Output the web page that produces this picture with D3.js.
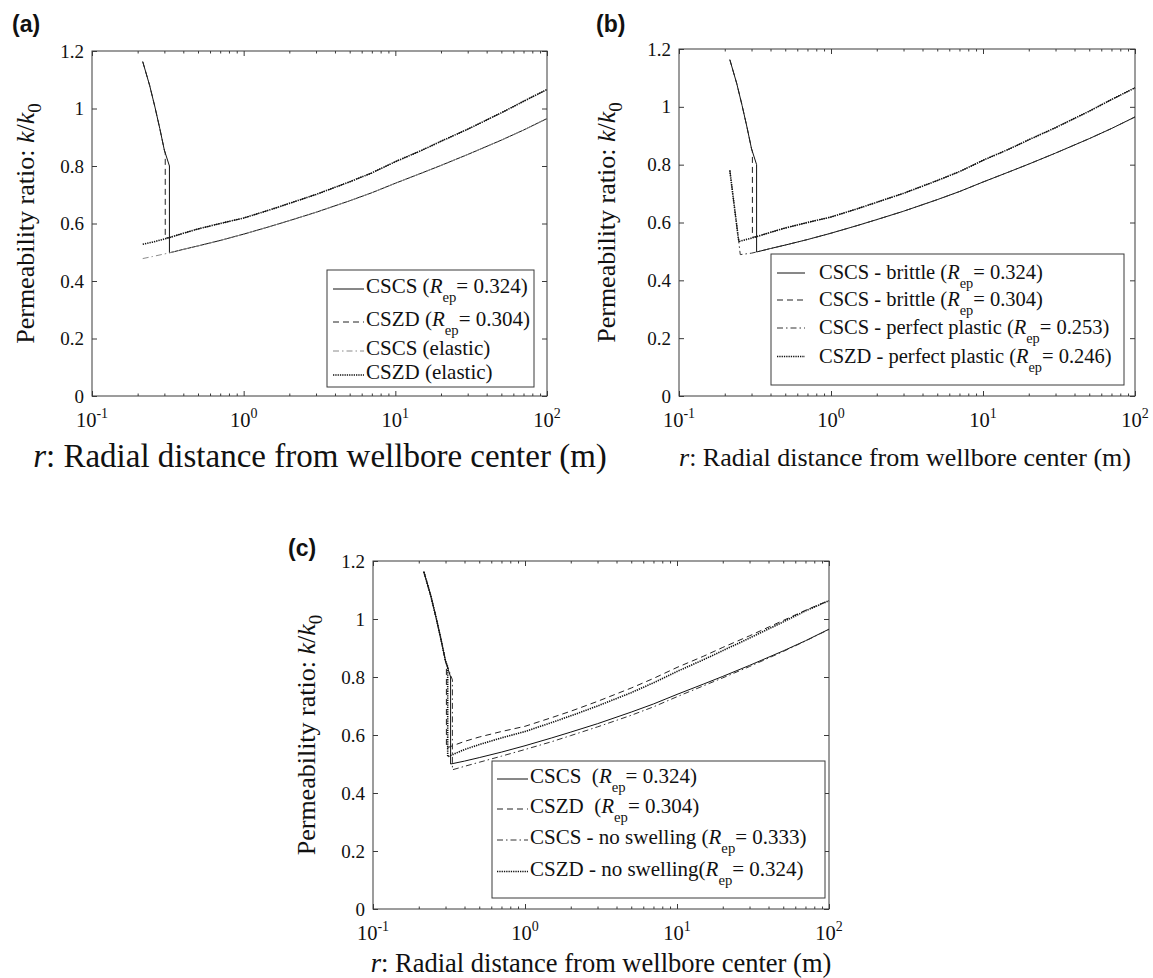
<!DOCTYPE html>
<html>
<head>
<meta charset="utf-8">
<script src="https://cdn.jsdelivr.net/npm/d3@7/dist/d3.min.js"></script>
<style>
  body { margin: 0; background: #fff; }
</style>
</head>
<body>
<svg id="fig" width="1153" height="978"></svg>
<script>
// ---- data ----
const xMajor = [0.1, 1, 10, 100];
const xExp = ['-1', '0', '1', '2'];
const yTicks = [0, 0.2, 0.4, 0.6, 0.8, 1, 1.2];
const yTickLabels = ['0', '0.2', '0.4', '0.6', '0.8', '1', '1.2'];

// plastic-zone branch (near wellbore)
const rPlastic = [0.216, 0.24, 0.26, 0.28, 0.30];
const kPlastic = [1.163, 1.08, 1.005, 0.93, 0.855];

// elastic curves
const rElastic = [0.216, 0.25, 0.3, 0.324, 0.4, 0.5, 0.7, 1, 1.5, 2, 3, 5, 7, 10, 15, 20, 30, 50, 70, 100];
const kCSCSElastic = [0.478, 0.485, 0.494, 0.498, 0.510, 0.522, 0.541, 0.563, 0.590, 0.610, 0.639, 0.679, 0.707, 0.740, 0.776, 0.802, 0.840, 0.890, 0.925, 0.965];
const kCSZDElastic = [0.528, 0.535, 0.546, 0.551, 0.566, 0.581, 0.600, 0.619, 0.648, 0.670, 0.701, 0.745, 0.776, 0.815, 0.855, 0.886, 0.928, 0.985, 1.025, 1.066];

// panel (b) perfect plastic branch
const rPerfect = [0.216, 0.246, 0.253];
const kPerfect = [0.78, 0.543, 0.489];

// panel (c) curves beyond the jump
const rC = [0.4, 0.5, 0.7, 1, 1.5, 2, 3, 5, 7, 10, 15, 20, 30, 50, 70, 100];
const kCDashed = [0.578, 0.593, 0.612, 0.630, 0.660, 0.682, 0.716, 0.762, 0.795, 0.833, 0.872, 0.902, 0.942, 0.995, 1.030, 1.064];
const kCDotted = [0.550, 0.567, 0.590, 0.612, 0.643, 0.666, 0.700, 0.746, 0.780, 0.819, 0.860, 0.891, 0.934, 0.990, 1.028, 1.063];
const kCDashDot = [0.492, 0.506, 0.527, 0.550, 0.577, 0.598, 0.628, 0.668, 0.697, 0.732, 0.770, 0.797, 0.836, 0.888, 0.924, 0.964];

// jump radii and values
const repA = [0.324, 0.304];          // CSCS, CSZD
const jumpTop = [0.80, 0.845];
const jumpBottom = [0.498, 0.549];
const repC = [0.324, 0.304, 0.333, 0.31];
const jumpTopC = [0.80, 0.845, 0.79, 0.835];
const jumpBottomC = [0.50, 0.555, 0.48, 0.525];

const legendA = [['CSCS (', '0.324)'], ['CSZD (', '0.304)'], ['CSCS (elastic)', null], ['CSZD (elastic)', null]];
const legendB = [['CSCS - brittle (', '0.324)'], ['CSCS - brittle (', '0.304)'], ['CSCS - perfect plastic (', '0.253)'], ['CSZD - perfect plastic (', '0.246)']];
const legendC = [['CSCS  (', '0.324)'], ['CSZD  (', '0.304)'], ['CSCS - no swelling (', '0.333)'], ['CSZD - no swelling(', '0.324)']];

// ---- helpers ----
const SERIF = '"Liberation Serif", "Times New Roman", Times, serif';
const SANS = '"Liberation Sans", Arial, sans-serif';
const zip = (rs, ks) => rs.map((r, i) => [r, ks[i]]);
const plasticTo = rep => zip(rPlastic, kPlastic).filter(d => d[0] < rep);
const elasticFrom = (ks, rep) => zip(rElastic, ks).filter(d => d[0] > rep);

const styles = {
    solid: {dash: null, w: 1, c: '#111'},
    dashed: {dash: '6,4', w: 1, c: '#222'},
    dashdot: {dash: '6,3,1.5,3', w: 1, c: '#333'},
    dashdotGrey: {dash: '6,3,1.5,3', w: 1, c: '#8a8a8a'},
    dotted: {dash: '1.3,1', w: 1.6, c: '#111'}
};
const axisCol = '#3a3a3a';

const svg = d3.select('#fig');

function drawPanel(p) {
    const g = svg.append('g');
    const x = d3.scaleLog().domain([0.1, 100]).range([p.x0, p.x1]);
    const y = d3.scaleLinear().domain([0, 1.2]).range([p.y1, p.y0]);

    const minor = [];
    [0.1, 1, 10].forEach(b => { for (let m = 2; m <= 9; m++) minor.push(b * m); });

    // ticks (inward, on all four sides)
    const mk = (axis, tr) => {
        const a = g.append('g').attr('transform', tr).call(axis);
        a.select('.domain').remove();
        a.selectAll('line').attr('stroke', axisCol);
        return a;
    };
    mk(d3.axisBottom(x).tickValues(xMajor).tickSize(-5).tickFormat(''), `translate(0,${p.y1})`);
    mk(d3.axisBottom(x).tickValues(minor).tickSize(-2.5).tickFormat(''), `translate(0,${p.y1})`);
    mk(d3.axisTop(x).tickValues(xMajor).tickSize(-5).tickFormat(''), `translate(0,${p.y0})`);
    mk(d3.axisTop(x).tickValues(minor).tickSize(-2.5).tickFormat(''), `translate(0,${p.y0})`);
    const ya = mk(d3.axisLeft(y).tickValues(yTicks).tickSize(-5).tickPadding(8)
        .tickFormat((d, i) => yTickLabels[i]), `translate(${p.x0},0)`);
    ya.attr('font-size', 19).attr('font-family', SERIF);
    ya.selectAll('text').attr('fill', '#111');
    mk(d3.axisRight(y).tickValues(yTicks).tickSize(-5).tickFormat(''), `translate(${p.x1},0)`);

    // box
    g.append('rect')
        .attr('x', p.x0).attr('y', p.y0)
        .attr('width', p.x1 - p.x0).attr('height', p.y1 - p.y0)
        .attr('fill', 'none').attr('stroke', axisCol).attr('stroke-width', 1);

    // x tick labels 10^n
    xMajor.forEach((v, i) => {
        const t = g.append('text')
            .attr('x', x(v)).attr('y', p.y1 + 31)
            .attr('text-anchor', 'middle')
            .attr('font-family', SERIF).attr('fill', '#111')
            .attr('font-size', 20.5);
        t.append('tspan').text('10');
        t.append('tspan').attr('dy', -9).attr('font-size', 14).text(xExp[i]);
    });

    // series
    const line = d3.line().x(d => x(d[0])).y(d => y(d[1]));
    p.series.forEach(s => {
        const st = styles[s.style];
        g.append('path')
            .datum(s.pts)
            .attr('d', line)
            .attr('fill', 'none')
            .attr('stroke', st.c)
            .attr('stroke-width', st.w)
            .attr('stroke-dasharray', st.dash);
    });

    // legend
    const L = p.legend;
    g.append('rect')
        .attr('x', L.x0).attr('y', L.y0)
        .attr('width', L.x1 - L.x0).attr('height', L.y1 - L.y0)
        .attr('fill', '#fff').attr('stroke', axisCol).attr('stroke-width', 1);
    L.items.forEach((it, i) => {
        const st = styles[p.series[i].style];
        const ly = L.rows[i];
        g.append('line')
            .attr('x1', L.sx0).attr('x2', L.sx1).attr('y1', ly).attr('y2', ly)
            .attr('stroke', st.c).attr('stroke-width', st.w).attr('stroke-dasharray', st.dash);
        const t = g.append('text')
            .attr('x', L.tx).attr('y', ly + L.base)
            .attr('font-family', SERIF).attr('fill', '#111')
            .attr('font-size', L.fs)
            .style('white-space', 'pre');
        t.append('tspan').text(it[0]);
        if (it[1]) {
            t.append('tspan').attr('font-style', 'italic').text('R');
            t.append('tspan').attr('dy', L.fs * 0.44).attr('font-size', L.fs * 0.7).text('ep');
            t.append('tspan').attr('dy', -L.fs * 0.44).text('= ' + it[1]);
        }
    });

    // y label
    const yl = g.append('text')
        .attr('transform', `translate(${p.ylx},${(p.y0 + p.y1) / 2}) rotate(-90)`)
        .attr('text-anchor', 'middle')
        .attr('font-family', SERIF).attr('fill', '#111')
        .attr('font-size', 26);
    yl.append('tspan').text('Permeability ratio: ');
    yl.append('tspan').attr('font-style', 'italic').text('k');
    yl.append('tspan').text('/');
    yl.append('tspan').attr('font-style', 'italic').text('k');
    yl.append('tspan').attr('dy', 7).attr('font-size', 19).text('0');

    // x label
    const xl = g.append('text')
        .attr('x', p.xlx).attr('y', p.xly)
        .attr('text-anchor', 'middle')
        .attr('font-family', SERIF).attr('fill', '#111')
        .attr('font-size', p.xlfs);
    xl.append('tspan').attr('font-style', 'italic').text('r');
    xl.append('tspan').text(': Radial distance from wellbore center (m)');

    // panel tag
    svg.append('text')
        .attr('x', p.tagX).attr('y', p.tagY)
        .attr('font-family', SANS).attr('font-weight', 'bold').attr('fill', '#111')
        .attr('font-size', 23)
        .text(p.tag);
}

// ---- panel (a) ----
drawPanel({
    tag: '(a)', tagX: 12, tagY: 32,
    x0: 92, x1: 547, y0: 51, y1: 396,
    ylx: 34, xlx: 320, xly: 467, xlfs: 33,
    series: [
        {style: 'solid', pts: [...plasticTo(repA[0]), [repA[0], jumpTop[0]], [repA[0], jumpBottom[0]], ...elasticFrom(kCSCSElastic, repA[0])]},
        {style: 'dashed', pts: [...plasticTo(repA[1]), [repA[1], jumpTop[1]], [repA[1], jumpBottom[1]], ...elasticFrom(kCSZDElastic, repA[1])]},
        {style: 'dashdotGrey', pts: zip(rElastic, kCSCSElastic)},
        {style: 'dotted', pts: zip(rElastic, kCSZDElastic)}
    ],
    legend: {
        x0: 327, x1: 534, y0: 270, y1: 387,
        sx0: 333, sx1: 364, tx: 366, fs: 21, base: 4,
        rows: [289, 322, 351, 375],
        items: legendA
    }
});

// ---- panel (b) ----
drawPanel({
    tag: '(b)', tagX: 596, tagY: 32,
    x0: 679, x1: 1135, y0: 49, y1: 396,
    ylx: 615, xlx: 905, xly: 466, xlfs: 26,
    series: [
        {style: 'solid', pts: [...plasticTo(repA[0]), [repA[0], jumpTop[0]], [repA[0], jumpBottom[0]], ...elasticFrom(kCSCSElastic, repA[0])]},
        {style: 'dashed', pts: [...plasticTo(repA[1]), [repA[1], jumpTop[1]], [repA[1], jumpBottom[1]], ...elasticFrom(kCSZDElastic, repA[1])]},
        {style: 'dashdot', pts: [...zip(rPerfect, kPerfect), ...elasticFrom(kCSCSElastic, rPerfect[2])]},
        {style: 'dotted', pts: [...zip(rPerfect, kPerfect).slice(0, 2), ...elasticFrom(kCSZDElastic, rPerfect[1])]}
    ],
    legend: {
        x0: 771, x1: 1124, y0: 254, y1: 385,
        sx0: 777, sx1: 805, tx: 819, fs: 20.5, base: 6,
        rows: [273, 300, 328, 356.5],
        items: legendB
    }
});

// ---- panel (c) ----
drawPanel({
    tag: '(c)', tagX: 288, tagY: 556,
    x0: 373, x1: 829, y0: 561, y1: 909,
    ylx: 315, xlx: 601, xly: 972, xlfs: 26.5,
    series: [
        {style: 'solid', pts: [...plasticTo(repC[0]), [repC[0], jumpTopC[0]], [repC[0], jumpBottomC[0]], ...elasticFrom(kCSCSElastic, repC[0])]},
        {style: 'dashed', pts: [...plasticTo(repC[1]), [repC[1], jumpTopC[1]], [repC[1], jumpBottomC[1]], ...zip(rC, kCDashed)]},
        {style: 'dashdot', pts: [...plasticTo(repC[2]), [repC[2], jumpTopC[2]], [repC[2], jumpBottomC[2]], ...zip(rC, kCDashDot)]},
        {style: 'dotted', pts: [...plasticTo(repC[3]), [repC[3], jumpTopC[3]], [repC[3], jumpBottomC[3]], ...zip(rC, kCDotted)]}
    ],
    legend: {
        x0: 492, x1: 825, y0: 761, y1: 898,
        sx0: 497, sx1: 528, tx: 530, fs: 21, base: 4,
        rows: [779, 809, 840, 871.5],
        items: legendC
    }
});
</script>
</body>
</html>
